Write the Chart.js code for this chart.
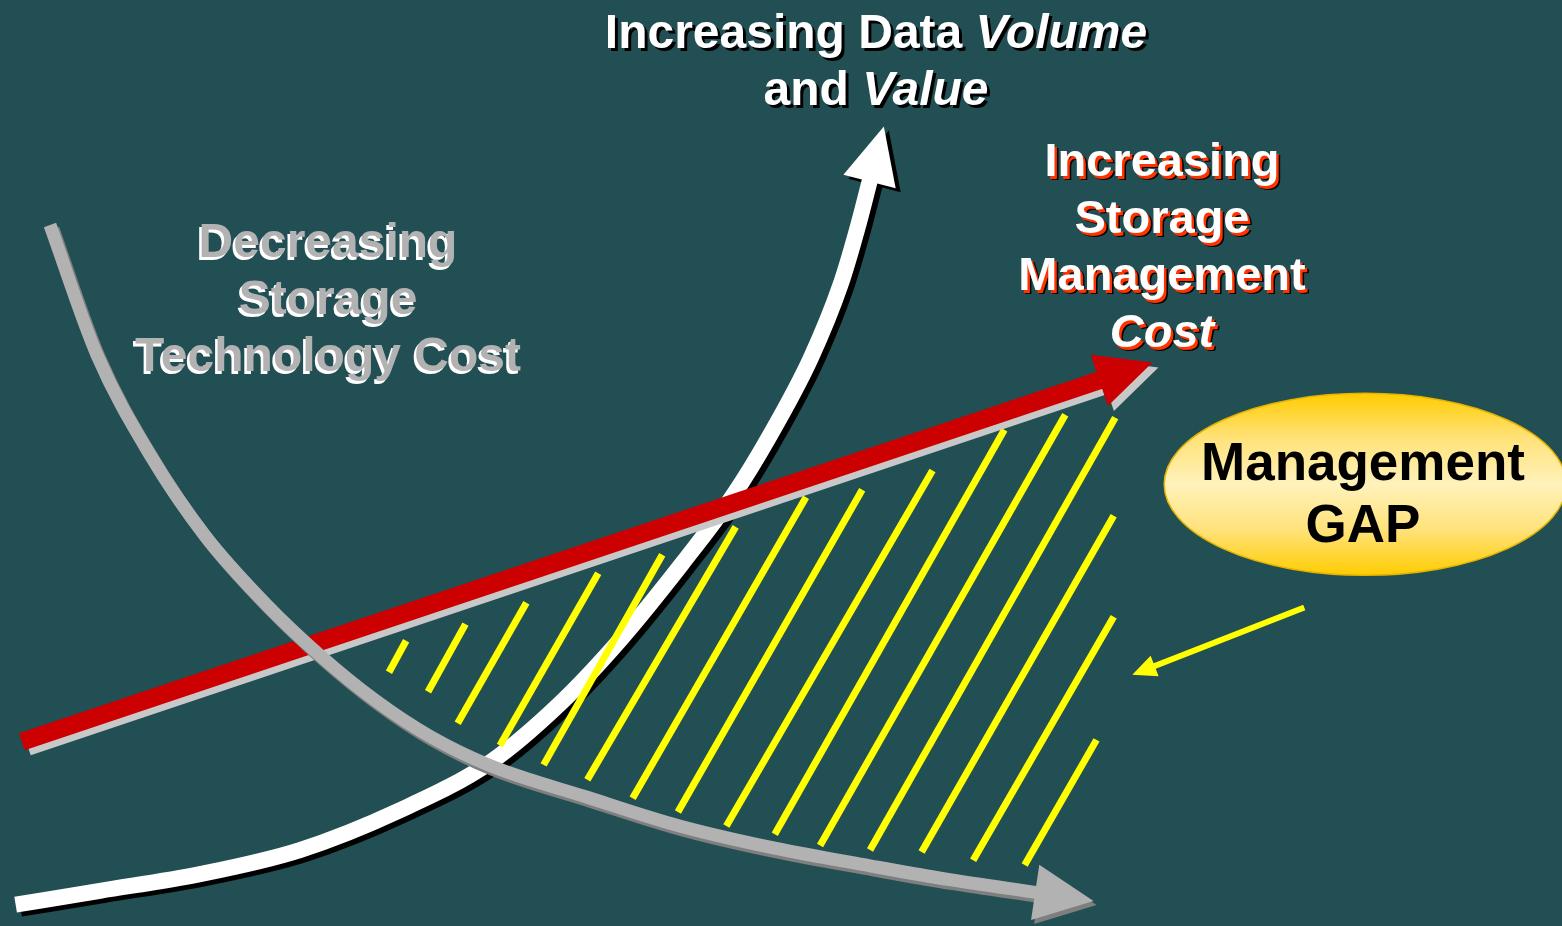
<!DOCTYPE html>
<html>
<head>
<meta charset="utf-8">
<title>Management GAP</title>
<script src="https://cdn.jsdelivr.net/npm/chart.js@4.4.1/dist/chart.umd.min.js"></script>
<style>
  html, body { margin: 0; padding: 0; background: #214f54; overflow: hidden; }
  #wrap { width: 1562px; height: 926px; }
</style>
</head>
<body>
<div id="wrap"><canvas id="gapChart" width="1562" height="926"></canvas></div>
<script>
// x = time (0-100), y = level (0-100)
const volumeX = [1.0, 6.4, 12.8, 19.2, 25.6, 31.4, 35.9, 39.7, 43.7, 46.9, 49.3, 51.9, 53.8, 54.9, 55.7];
const volumeY = [2.3, 3.8, 5.6, 8.2, 12.5, 17.7, 24.1, 30.9, 39.2, 46.4, 53.0, 61.3, 69.2, 75.4, 80.6];

const techCostX = [3.2, 6.2, 9.6, 13.1, 17.0, 20.5, 24.0, 27.5, 31.4, 37.6, 43.5, 49.6, 55.7, 60.8, 66.4];
const techCostY = [75.7, 61.7, 50.9, 42.2, 34.8, 29.2, 24.4, 20.5, 17.3, 13.9, 10.8, 8.4, 6.5, 5.0, 3.6];

const mgmtCostX = [1.4, 70.5];
const mgmtCostY = [19.9, 59.0];

// hatch lines of the gap, bottom end and top end
const gapLowX = [24.9, 27.4, 29.3, 32.0, 34.8, 37.6, 40.5, 43.4, 46.5, 49.6, 52.5, 55.7, 59.0, 62.3, 65.6];
const gapLowY = [27.4, 25.3, 21.9, 19.5, 17.4, 15.8, 13.8, 12.3, 10.8, 9.9, 8.7, 8.2, 8.0, 7.1, 6.6];
const gapHighX = [26.0, 29.8, 33.7, 38.3, 42.4, 47.1, 51.6, 55.2, 59.7, 64.3, 68.2, 71.4, 71.3, 71.3, 70.2];
const gapHighY = [30.8, 32.6, 34.9, 38.1, 40.1, 43.1, 46.3, 47.1, 49.2, 53.6, 55.2, 54.9, 44.3, 33.4, 20.1];

const pointerX = [83.5, 73.8];
const pointerY = [34.4, 28.0];

const gapCenter = [87.4, 47.7];

// text runs: [text, italic]
const volumeTitle = [[["Increasing Data ", 0], ["Volume", 1]], [["and ", 0], ["Value", 1]]];
const mgmtCostTitle = [[["Increasing", 0]], [["Storage", 0]], [["Management", 0]], [["Cost", 1]]];
const techCostTitle = [[["Decreasing", 0]], [["Storage", 0]], [["Technology Cost", 0]]];
const gapLabel = ["Management", "GAP"];

const FONT = '"Liberation Sans", Arial, sans-serif';

function toPoints(xs, ys) {
  return xs.map((x, i) => ({ x: x, y: ys[i] }));
}

function arrowHead(meta, ds) {
  const pts = meta.data;
  const a = pts[pts.length - 2];
  const b = pts[pts.length - 1];
  let dx = b.x - a.x, dy = b.y - a.y;
  const d = Math.hypot(dx, dy);
  dx /= d; dy /= d;
  const len = ds.arrow[0], half = ds.arrow[1];
  return [
    [b.x + dx * len, b.y + dy * len],
    [b.x - dy * half - dx * 2, b.y + dx * half - dy * 2],
    [b.x + dy * half - dx * 2, b.y - dx * half - dy * 2]
  ];
}

function fillTri(ctx, tri, color, ox, oy) {
  ctx.beginPath();
  ctx.moveTo(tri[0][0] + ox, tri[0][1] + oy);
  ctx.lineTo(tri[1][0] + ox, tri[1][1] + oy);
  ctx.lineTo(tri[2][0] + ox, tri[2][1] + oy);
  ctx.closePath();
  ctx.fillStyle = color;
  ctx.fill();
}

function drawRuns(ctx, runs, cx, baseline, size, fill, layers) {
  let total = 0;
  const widths = runs.map(r => {
    ctx.font = (r[1] ? "italic " : "") + "bold " + size + "px " + FONT;
    const w = ctx.measureText(r[0]).width;
    total += w;
    return w;
  });
  layers.concat([[fill, 0, 0]]).forEach(layer => {
    let x = cx - total / 2;
    runs.forEach((r, i) => {
      ctx.font = (r[1] ? "italic " : "") + "bold " + size + "px " + FONT;
      ctx.fillStyle = layer[0];
      ctx.fillText(r[0], x + layer[1], baseline + layer[2]);
      x += widths[i];
    });
  });
}

const effectsPlugin = {
  id: "effects",
  beforeDatasetDraw(chart, args) {
    const ds = chart.data.datasets[args.index];
    const ctx = chart.ctx;
    ctx.save();
    if (ds.arrow && ds.shadow) {
      fillTri(ctx, arrowHead(args.meta, ds), ds.shadow[0], ds.shadow[1], ds.shadow[2]);
    }
    if (ds.shadow) {
      ctx.shadowColor = ds.shadow[0];
      ctx.shadowOffsetX = ds.shadow[1];
      ctx.shadowOffsetY = ds.shadow[2];
      ctx.shadowBlur = 0;
    }
  },
  afterDatasetDraw(chart, args) {
    const ds = chart.data.datasets[args.index];
    const ctx = chart.ctx;
    ctx.restore();
    if (ds.arrow) {
      ctx.save();
      fillTri(ctx, arrowHead(args.meta, ds), ds.borderColor, 0, 0);
      ctx.restore();
    }
  },
  afterDraw(chart) {
    const ctx = chart.ctx;
    const sx = chart.scales.x, sy = chart.scales.y;
    ctx.save();
    ctx.textBaseline = "alphabetic";

    // management gap bubble
    const ex = sx.getPixelForValue(gapCenter[0]);
    const ey = sy.getPixelForValue(gapCenter[1]);
    const rx = 201, ry = 91;
    const grad = ctx.createLinearGradient(0, ey - ry, 0, ey + ry);
    grad.addColorStop(0, "#ffcc00");
    grad.addColorStop(0.25, "#ffe27a");
    grad.addColorStop(0.5, "#fff2bb");
    grad.addColorStop(0.75, "#ffe27a");
    grad.addColorStop(1, "#ffcc00");
    ctx.beginPath();
    ctx.ellipse(ex, ey, rx, ry, 0, 0, Math.PI * 2);
    ctx.fillStyle = grad;
    ctx.fill();
    ctx.lineWidth = 1.5;
    ctx.strokeStyle = "#e6b400";
    ctx.stroke();
    drawRuns(ctx, [[gapLabel[0], 0]], 1363, 480, 53, "#000000", []);
    drawRuns(ctx, [[gapLabel[1], 0]], 1363, 542, 53, "#000000", []);

    volumeTitle.forEach((line, i) => {
      drawRuns(ctx, line, 876, 48 + i * 57, 48, "#ffffff", [["#000000", 3, 3]]);
    });
    mgmtCostTitle.forEach((line, i) => {
      drawRuns(ctx, line, 1162, 176 + i * 57, 47, "#ffffff", [["#000000", 4, 4], ["#ff3300", 2.5, 2.5]]);
    });
    techCostTitle.forEach((line, i) => {
      drawRuns(ctx, line, 328, 257 + i * 57, 48, "#b2b2b2", [["#ffffff", -2.5, 2.5]]);
    });
    ctx.restore();
  }
};

const hatchSets = gapLowX.map((x, i) => ({
  data: [{ x: x, y: gapLowY[i] }, { x: gapHighX[i], y: gapHighY[i] }],
  borderColor: "#ffff00",
  borderWidth: 7,
  order: 3
}));

const datasets = [
  {
    label: "Decreasing Storage Technology Cost",
    data: toPoints(techCostX, techCostY),
    borderColor: "#b2b2b2",
    borderWidth: 13,
    cubicInterpolationMode: "monotone",
    shadow: ["#7f7f7f", 3, 4],
    arrow: [57, 28],
    order: 1
  },
  {
    label: "Increasing Storage Management Cost",
    data: toPoints(mgmtCostX, mgmtCostY),
    borderColor: "#cc0000",
    borderWidth: 18,
    shadow: ["#c8c8c8", 6, 5],
    arrow: [54, 27],
    order: 2
  },
  {
    label: "Pointer",
    data: toPoints(pointerX, pointerY),
    borderColor: "#ffff00",
    borderWidth: 6,
    arrow: [22, 11],
    order: 3
  },
  ...hatchSets,
  {
    label: "Increasing Data Volume and Value",
    data: toPoints(volumeX, volumeY),
    borderColor: "#ffffff",
    borderWidth: 16,
    cubicInterpolationMode: "monotone",
    shadow: ["#000000", 5, 4],
    arrow: [55, 27],
    order: 4
  }
];

new Chart(document.getElementById("gapChart"), {
  type: "line",
  data: { datasets: datasets },
  options: {
    responsive: false,
    animation: false,
    events: [],
    clip: false,
    layout: { padding: 0 },
    elements: {
      point: { radius: 0, hoverRadius: 0 },
      line: { borderCapStyle: "butt", fill: false }
    },
    plugins: {
      legend: { display: false },
      tooltip: { enabled: false }
    },
    scales: {
      x: { type: "linear", min: 0, max: 100, display: false },
      y: { type: "linear", min: 0, max: 100, display: false }
    }
  },
  plugins: [effectsPlugin]
});
</script>
</body>
</html>
